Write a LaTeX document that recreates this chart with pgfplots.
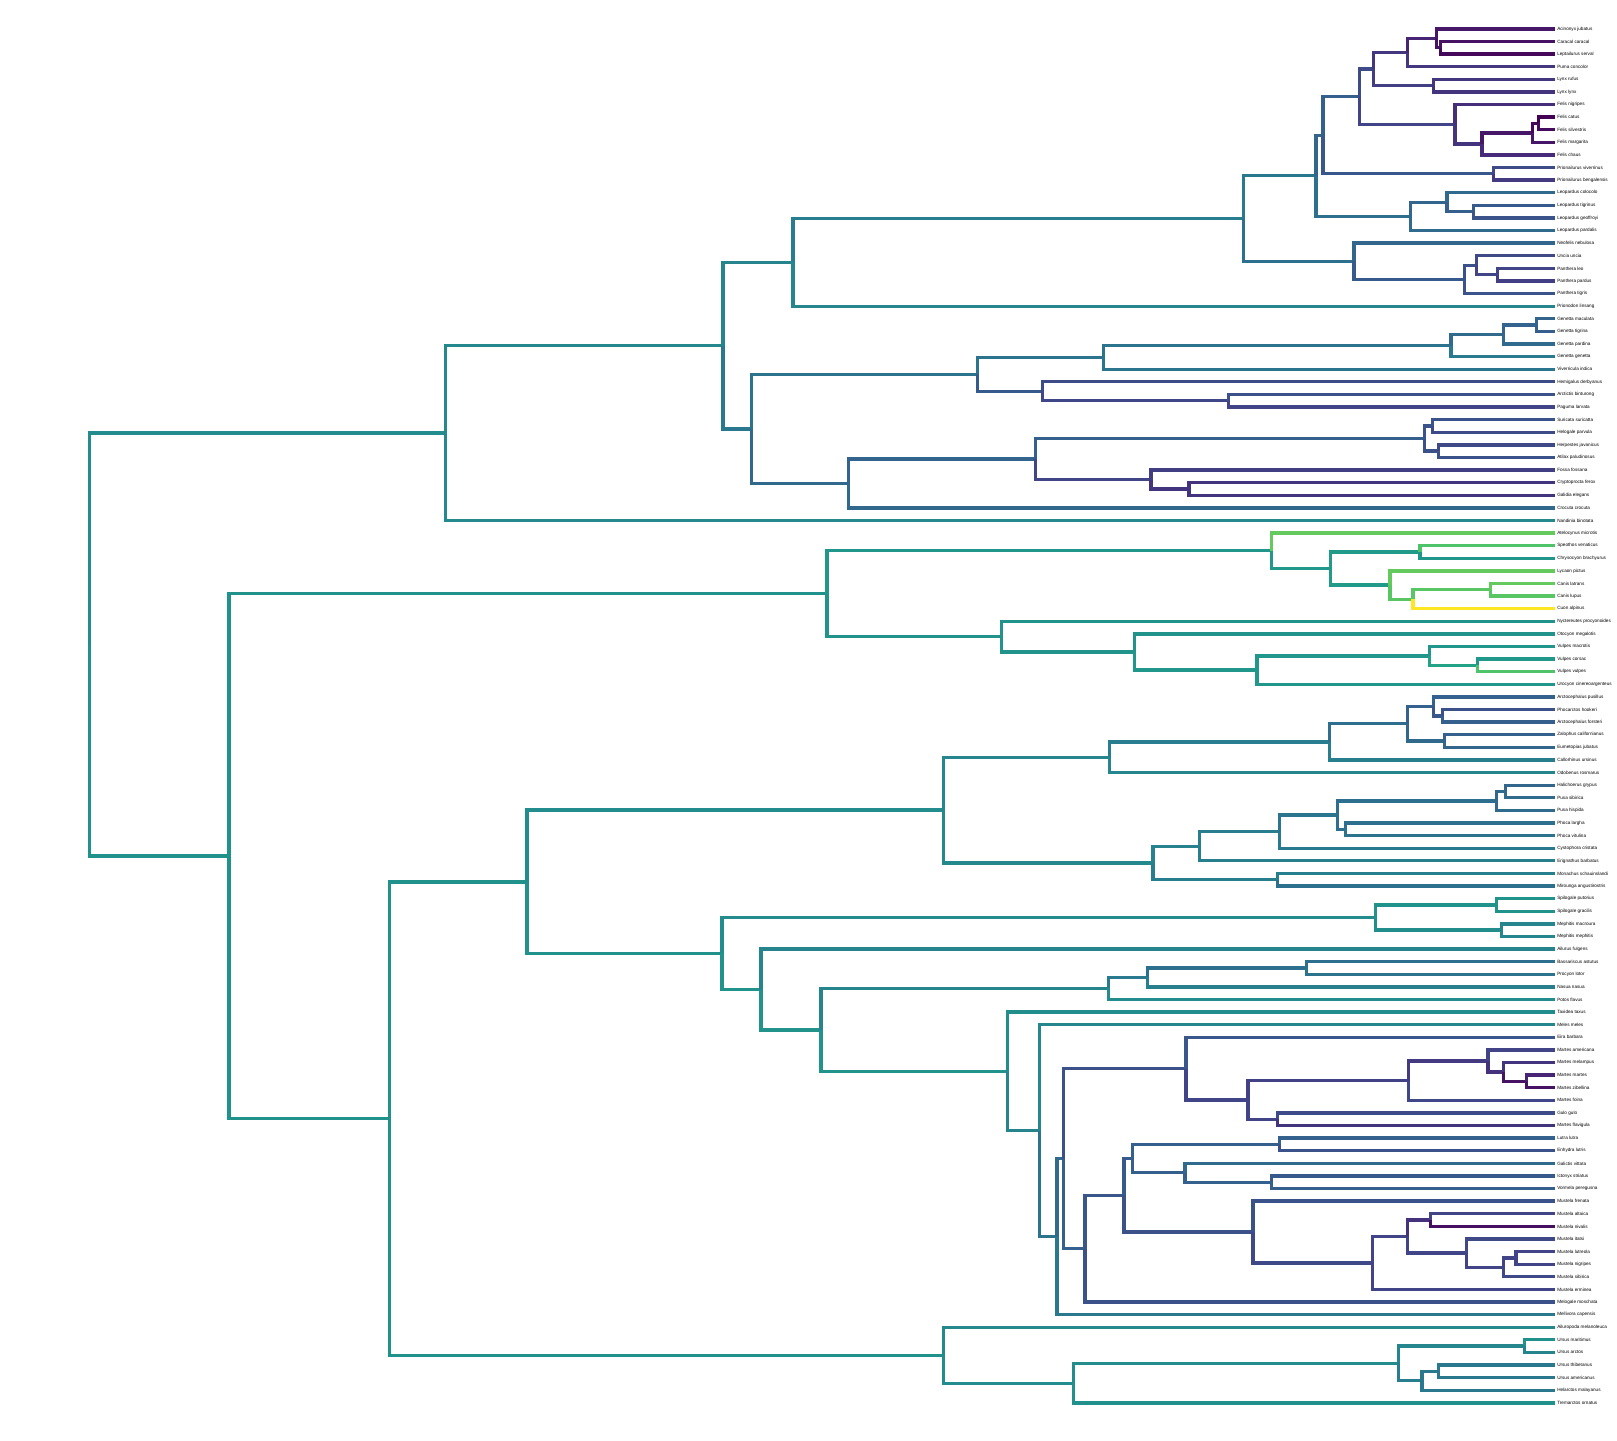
\documentclass[border=0pt]{standalone}
\usepackage{pgfplots}
\pgfplotsset{compat=1.18}
\usepackage{pgfplotstable}
\usepackage{fontspec}
\setmainfont{Liberation Sans}
\pgfplotsset{colormap={vir}{rgb255=(68,1,84) rgb255=(72,36,117) rgb255=(65,68,135) rgb255=(53,95,141) rgb255=(42,120,142) rgb255=(33,145,140) rgb255=(34,168,132) rgb255=(68,191,112) rgb255=(122,209,81) rgb255=(189,223,38) rgb255=(253,231,37)}}
\def\T{1508}
\newcommand\E[5]{\addplot[line width=0.95pt, color of colormap={#5}, mark=none] coordinates {(#1,#2) (#1,#4) (#3,#4)};}
\pgfplotstableread[col sep=comma]{
i,name
1,Acinonyx jubatus
2,Caracal caracal
3,Leptailurus serval
4,Puma concolor
5,Lynx rufus
6,Lynx lynx
7,Felis nigripes
8,Felis catus
9,Felis silvestris
10,Felis margarita
11,Felis chaus
12,Prionailurus viverrinus
13,Prionailurus bengalensis
14,Leopardus colocolo
15,Leopardus tigrinus
16,Leopardus geoffroyi
17,Leopardus pardalis
18,Neofelis nebulosa
19,Uncia uncia
20,Panthera leo
21,Panthera pardus
22,Panthera tigris
23,Prionodon linsang
24,Genetta maculata
25,Genetta tigrina
26,Genetta pardina
27,Genetta genetta
28,Viverricula indica
29,Hemigalus derbyanus
30,Arctictis binturong
31,Paguma larvata
32,Suricata suricatta
33,Helogale parvula
34,Herpestes javanicus
35,Atilax paludinosus
36,Fossa fossana
37,Cryptoprocta ferox
38,Galidia elegans
39,Crocuta crocuta
40,Nandinia binotata
41,Atelocynus microtis
42,Speothos venaticus
43,Chrysocyon brachyurus
44,Lycaon pictus
45,Canis latrans
46,Canis lupus
47,Cuon alpinus
48,Nyctereutes procyonoides
49,Otocyon megalotis
50,Vulpes macrotis
51,Vulpes corsac
52,Vulpes vulpes
53,Urocyon cinereoargenteus
54,Arctocephalus pusillus
55,Phocarctos hookeri
56,Arctocephalus forsteri
57,Zalophus californianus
58,Eumetopias jubatus
59,Callorhinus ursinus
60,Odobenus rosmarus
61,Halichoerus grypus
62,Pusa sibirica
63,Pusa hispida
64,Phoca largha
65,Phoca vitulina
66,Cystophora cristata
67,Erignathus barbatus
68,Monachus schauinslandi
69,Mirounga angustirostris
70,Spilogale putorius
71,Spilogale gracilis
72,Mephitis macroura
73,Mephitis mephitis
74,Ailurus fulgens
75,Bassariscus astutus
76,Procyon lotor
77,Nasua nasua
78,Potos flavus
79,Taxidea taxus
80,Meles meles
81,Eira barbara
82,Martes americana
83,Martes melampus
84,Martes martes
85,Martes zibellina
86,Martes foina
87,Gulo gulo
88,Martes flavigula
89,Lutra lutra
90,Enhydra lutris
91,Galictis vittata
92,Ictonyx striatus
93,Vormela peregusna
94,Mustela frenata
95,Mustela altaica
96,Mustela nivalis
97,Mustela itatsi
98,Mustela lutreola
99,Mustela nigripes
100,Mustela sibirica
101,Mustela erminea
102,Melogale moschata
103,Mellivora capensis
104,Ailuropoda melanoleuca
105,Ursus maritimus
106,Ursus arctos
107,Ursus thibetanus
108,Ursus americanus
109,Helarctos malayanus
110,Tremarctos ornatus
}\tips
\begin{document}
\begin{tikzpicture}
\begin{axis}[width=16.17cm, height=14.40cm, scale only axis, hide axis,
  xmin=0, xmax=1568, ymin=-1.29, ymax=112.95, y dir=reverse, clip=false,
  colormap name=vir]
% root and Feliformia
\E{87}{49.84}{432}{33.06}{480}
\E{87}{49.84}{222}{66.63}{500}
\E{432}{33.06}{701}{26.127}{470}
\E{432}{33.06}{\T}{40}{470}
\E{701}{26.127}{769}{19.52}{450}
\E{701}{26.127}{729}{32.734}{400}
\E{769}{19.52}{1206}{16.047}{420}
\E{769}{19.52}{\T}{23}{460}
\E{1206}{16.047}{1276}{12.656}{400}
\E{1206}{16.047}{1313}{19.4375}{370}
\E{1276}{12.656}{1283}{9.4375}{330}
\E{1276}{12.656}{1368}{15.875}{370}
\E{1283}{9.4375}{1318}{6.375}{300}
\E{1283}{9.4375}{1448}{12.5}{270}
\E{1318}{6.375}{1332}{4.1875}{230}
\E{1318}{6.375}{1411}{8.5625}{200}
\E{1332}{4.1875}{1365}{2.875}{160}
\E{1332}{4.1875}{1390}{5.5}{180}
\E{1365}{2.875}{1393}{1.75}{100}
\E{1365}{2.875}{\T}{4}{160}
\E{1393}{1.75}{\T}{1}{60}
\E{1393}{1.75}{1397}{2.5}{50}
\E{1397}{2.5}{\T}{2}{50}
\E{1397}{2.5}{\T}{3}{20}
\E{1390}{5.5}{\T}{5}{160}
\E{1390}{5.5}{\T}{6}{150}
\E{1411}{8.5625}{\T}{7}{130}
\E{1411}{8.5625}{1437}{10.125}{150}
\E{1437}{10.125}{1486}{9.25}{60}
\E{1437}{10.125}{\T}{11}{120}
\E{1486}{9.25}{1492}{8.5}{20}
\E{1486}{9.25}{\T}{10}{60}
\E{1492}{8.5}{\T}{8}{0}
\E{1492}{8.5}{\T}{9}{30}
\E{1448}{12.5}{\T}{12}{230}
\E{1448}{12.5}{\T}{13}{170}
\E{1368}{15.875}{1403}{14.75}{330}
\E{1368}{15.875}{\T}{17}{350}
\E{1403}{14.75}{\T}{14}{350}
\E{1403}{14.75}{1429}{15.5}{300}
\E{1429}{15.5}{\T}{15}{280}
\E{1429}{15.5}{\T}{16}{260}
\E{1313}{19.4375}{\T}{18}{330}
\E{1313}{19.4375}{1420}{20.875}{280}
\E{1420}{20.875}{1432}{19.75}{250}
\E{1420}{20.875}{\T}{22}{260}
\E{1432}{19.75}{\T}{19}{220}
\E{1432}{19.75}{1452}{20.5}{200}
\E{1452}{20.5}{\T}{20}{200}
\E{1452}{20.5}{\T}{21}{180}
\E{729}{32.734}{948}{28.406}{380}
\E{729}{32.734}{823}{37.0625}{340}
\E{948}{28.406}{1070}{27.0625}{380}
\E{948}{28.406}{1011}{29.75}{280}
\E{1070}{27.0625}{1407}{26.125}{380}
\E{1070}{27.0625}{\T}{28}{390}
\E{1407}{26.125}{1458}{25.25}{350}
\E{1407}{26.125}{\T}{27}{410}
\E{1458}{25.25}{1490}{24.5}{320}
\E{1458}{25.25}{\T}{26}{350}
\E{1490}{24.5}{\T}{24}{320}
\E{1490}{24.5}{\T}{25}{300}
\E{1011}{29.75}{\T}{29}{230}
\E{1011}{29.75}{1191}{30.5}{210}
\E{1191}{30.5}{\T}{30}{250}
\E{1191}{30.5}{\T}{31}{200}
\E{823}{37.0625}{1004}{35.125}{320}
\E{823}{37.0625}{\T}{39}{340}
\E{1004}{35.125}{1381}{33.5}{300}
\E{1004}{35.125}{1116}{36.75}{200}
\E{1381}{33.5}{1389}{32.5}{260}
\E{1381}{33.5}{1395}{34.5}{250}
\E{1389}{32.5}{\T}{32}{260}
\E{1389}{32.5}{\T}{33}{230}
\E{1395}{34.5}{\T}{34}{220}
\E{1395}{34.5}{\T}{35}{250}
\E{1116}{36.75}{\T}{36}{180}
\E{1116}{36.75}{1153}{37.5}{150}
\E{1153}{37.5}{\T}{37}{150}
\E{1153}{37.5}{\T}{38}{150}
% Caniformia
\E{222}{66.63}{802}{45.81}{500}
\E{222}{66.63}{378}{87.44}{500}
\E{802}{45.81}{1233}{42.406}{520}
\E{802}{45.81}{971}{49.22}{510}
\E{1233}{42.406}{\T}{41}{760}
\E{1233}{42.406}{1290}{43.8125}{530}
\E{1290}{43.8125}{1377}{42.5}{540}
\E{1290}{43.8125}{1348}{45.125}{540}
\E{1377}{42.5}{\T}{42}{720}
\E{1377}{42.5}{\T}{43}{520}
\E{1348}{45.125}{\T}{44}{760}
\E{1348}{45.125}{1370}{46.25}{740}
\E{1370}{46.25}{1445}{45.5}{740}
\E{1370}{46.25}{\T}{47}{1000}
\E{1445}{45.5}{\T}{45}{760}
\E{1445}{45.5}{\T}{46}{740}
\E{971}{49.22}{\T}{48}{510}
\E{971}{49.22}{1100}{50.4375}{510}
\E{1100}{50.4375}{\T}{49}{510}
\E{1100}{50.4375}{1219}{51.875}{520}
\E{1219}{51.875}{1386}{50.75}{520}
\E{1219}{51.875}{\T}{53}{520}
\E{1386}{50.75}{\T}{50}{520}
\E{1386}{50.75}{1433}{51.5}{580}
\E{1433}{51.5}{\T}{51}{530}
\E{1433}{51.5}{\T}{52}{720}
\E{378}{87.44}{511}{68.67}{500}
\E{378}{87.44}{915}{106.22}{500}
\E{511}{68.67}{915}{62.98}{480}
\E{511}{68.67}{700}{74.35}{500}
\E{915}{62.98}{1076}{58.78}{460}
\E{915}{62.98}{1118}{67.17}{470}
\E{1076}{58.78}{1289}{57.5625}{420}
\E{1076}{58.78}{\T}{60}{460}
\E{1289}{57.5625}{1365}{56.125}{360}
\E{1289}{57.5625}{\T}{59}{430}
\E{1365}{56.125}{1390}{54.75}{310}
\E{1365}{56.125}{1401}{57.5}{340}
\E{1390}{54.75}{\T}{54}{310}
\E{1390}{54.75}{1399}{55.5}{270}
\E{1399}{55.5}{\T}{55}{250}
\E{1399}{55.5}{\T}{56}{300}
\E{1401}{57.5}{\T}{57}{310}
\E{1401}{57.5}{\T}{58}{330}
\E{1118}{67.17}{1163}{65.84}{440}
\E{1118}{67.17}{1239}{68.5}{430}
\E{1163}{65.84}{1241}{64.6875}{420}
\E{1163}{65.84}{\T}{67}{430}
\E{1241}{64.6875}{1297}{63.375}{390}
\E{1241}{64.6875}{\T}{66}{410}
\E{1297}{63.375}{1451}{62.25}{360}
\E{1297}{63.375}{1305}{64.5}{360}
\E{1451}{62.25}{1460}{61.5}{340}
\E{1451}{62.25}{\T}{63}{350}
\E{1460}{61.5}{\T}{61}{330}
\E{1460}{61.5}{\T}{62}{350}
\E{1305}{64.5}{\T}{64}{360}
\E{1305}{64.5}{\T}{65}{380}
\E{1239}{68.5}{\T}{68}{430}
\E{1239}{68.5}{\T}{69}{370}
\E{700}{74.35}{1334}{71.5}{480}
\E{700}{74.35}{738}{77.21}{510}
\E{1334}{71.5}{1451}{70.5}{510}
\E{1334}{71.5}{1456}{72.5}{490}
\E{1451}{70.5}{\T}{70}{510}
\E{1451}{70.5}{\T}{71}{510}
\E{1456}{72.5}{\T}{72}{460}
\E{1456}{72.5}{\T}{73}{460}
\E{738}{77.21}{\T}{74}{450}
\E{738}{77.21}{796}{80.41}{510}
\E{796}{80.41}{1075}{77.125}{450}
\E{796}{80.41}{977}{83.70}{510}
\E{1075}{77.125}{1113}{76.25}{410}
\E{1075}{77.125}{\T}{78}{480}
\E{1113}{76.25}{1267}{75.5}{370}
\E{1113}{76.25}{\T}{77}{430}
\E{1267}{75.5}{\T}{75}{360}
\E{1267}{75.5}{\T}{76}{380}
\E{977}{83.70}{\T}{79}{490}
\E{977}{83.70}{1008}{88.41}{450}
\E{1008}{88.41}{\T}{80}{460}
\E{1008}{88.41}{1025}{96.81}{380}
\E{1025}{96.81}{1031}{90.63}{350}
\E{1025}{96.81}{\T}{103}{400}
\E{1031}{90.63}{1150}{83.48}{250}
\E{1031}{90.63}{1052}{97.77}{300}
\E{1150}{83.48}{\T}{81}{270}
\E{1150}{83.48}{1210}{85.97}{200}
\E{1210}{85.97}{1366}{84.4375}{190}
\E{1210}{85.97}{1239}{87.5}{200}
\E{1366}{84.4375}{1443}{82.875}{170}
\E{1366}{84.4375}{\T}{86}{210}
\E{1443}{82.875}{\T}{82}{200}
\E{1443}{82.875}{1458}{83.75}{140}
\E{1458}{83.75}{\T}{83}{150}
\E{1458}{83.75}{1480}{84.5}{50}
\E{1480}{84.5}{\T}{84}{100}
\E{1480}{84.5}{\T}{85}{50}
\E{1239}{87.5}{\T}{87}{230}
\E{1239}{87.5}{\T}{88}{150}
\E{1052}{97.77}{1090}{93.54}{270}
\E{1052}{97.77}{\T}{102}{250}
\E{1090}{93.54}{1098}{90.625}{280}
\E{1090}{93.54}{1215}{96.45}{250}
\E{1098}{90.625}{1241}{89.5}{300}
\E{1098}{90.625}{1149}{91.75}{300}
\E{1241}{89.5}{\T}{89}{310}
\E{1241}{89.5}{\T}{90}{250}
\E{1149}{91.75}{\T}{91}{350}
\E{1149}{91.75}{1233}{92.5}{310}
\E{1233}{92.5}{\T}{92}{280}
\E{1233}{92.5}{\T}{93}{300}
\E{1215}{96.45}{\T}{94}{250}
\E{1215}{96.45}{1331}{98.906}{220}
\E{1331}{98.906}{1365}{96.8125}{200}
\E{1331}{98.906}{\T}{101}{200}
\E{1365}{96.8125}{1387}{95.5}{140}
\E{1365}{96.8125}{1422}{98.125}{200}
\E{1387}{95.5}{\T}{95}{200}
\E{1387}{95.5}{\T}{96}{40}
\E{1422}{98.125}{\T}{97}{220}
\E{1422}{98.125}{1458}{99.25}{200}
\E{1458}{99.25}{1470}{98.5}{200}
\E{1458}{99.25}{\T}{100}{220}
\E{1470}{98.5}{\T}{98}{200}
\E{1470}{98.5}{\T}{99}{200}
\E{915}{106.22}{\T}{104}{470}
\E{915}{106.22}{1041}{108.44}{480}
\E{1041}{108.44}{1356}{106.875}{480}
\E{1041}{108.44}{\T}{110}{500}
\E{1356}{106.875}{1478}{105.5}{460}
\E{1356}{106.875}{1379}{108.25}{420}
\E{1478}{105.5}{\T}{105}{500}
\E{1478}{105.5}{\T}{106}{450}
\E{1379}{108.25}{1395}{107.5}{400}
\E{1379}{108.25}{\T}{109}{400}
\E{1395}{107.5}{\T}{107}{400}
\E{1395}{107.5}{\T}{108}{400}
% tip labels
\addplot[draw=none, mark=none, nodes near coords, point meta=explicit symbolic,
  nodes near coords style={anchor=west, inner sep=0.4pt, text=black, font=\fontsize{1.32}{1.6}\selectfont}]
  table[x expr={1508}, y=i, meta=name] {\tips};
\end{axis}
\pgfresetboundingbox
\path (current axis.south west) rectangle (current axis.north east);
\end{tikzpicture}
\end{document}
